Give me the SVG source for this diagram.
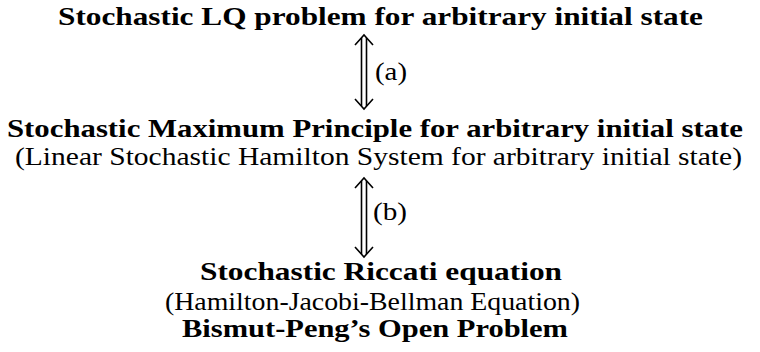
<svg xmlns="http://www.w3.org/2000/svg" width="760" height="352" viewBox="0 0 760 352">
<defs>
<style>
.b{font-family:"Liberation Serif","DejaVu Serif",serif;font-weight:bold;font-size:26px;fill:#000}
.r{font-family:"Liberation Serif","DejaVu Serif",serif;font-size:25px;fill:#000}
.s{stroke:#000;stroke-width:1.6;fill:none}
</style>
</defs>
<rect width="760" height="352" fill="#fff"/>
<g id="node-lq">
<text class="b" x="58" y="25" textLength="645" lengthAdjust="spacingAndGlyphs">Stochastic LQ problem for arbitrary initial state</text>
</g>
<g id="node-smp">
<text class="b" x="7" y="137" textLength="736" lengthAdjust="spacingAndGlyphs">Stochastic Maximum Principle for arbitrary initial state</text>
<text class="r" x="15" y="165" textLength="727" lengthAdjust="spacingAndGlyphs">(Linear Stochastic Hamilton System for arbitrary initial state)</text>
</g>
<g id="node-riccati">
<text class="b" x="200" y="280" textLength="362" lengthAdjust="spacingAndGlyphs">Stochastic Riccati equation</text>
<text class="r" x="165" y="310" textLength="415" lengthAdjust="spacingAndGlyphs">(Hamilton-Jacobi-Bellman Equation)</text>
<text class="b" x="182" y="337" textLength="386" lengthAdjust="spacingAndGlyphs">Bismut-Peng’s Open Problem</text>
</g>
<g id="connectors">
<g id="arrow-a">
<line class="s" x1="361.5" y1="38" x2="361.5" y2="106"/>
<line class="s" x1="366.5" y1="38" x2="366.5" y2="106"/>
<polyline class="s" points="355,45 364,35 373,45"/>
<polyline class="s" points="355,99 364,109 373,99"/>
<text class="r" x="375" y="80" textLength="32" lengthAdjust="spacingAndGlyphs">(a)</text>
</g>
<g id="arrow-b">
<line class="s" x1="361.5" y1="181" x2="361.5" y2="254"/>
<line class="s" x1="366.5" y1="181" x2="366.5" y2="254"/>
<polyline class="s" points="355,188 364,178 373,188"/>
<polyline class="s" points="355,247 364,257 373,247"/>
<text class="r" x="373" y="220" textLength="34" lengthAdjust="spacingAndGlyphs">(b)</text>
</g>
</g>
</svg>
